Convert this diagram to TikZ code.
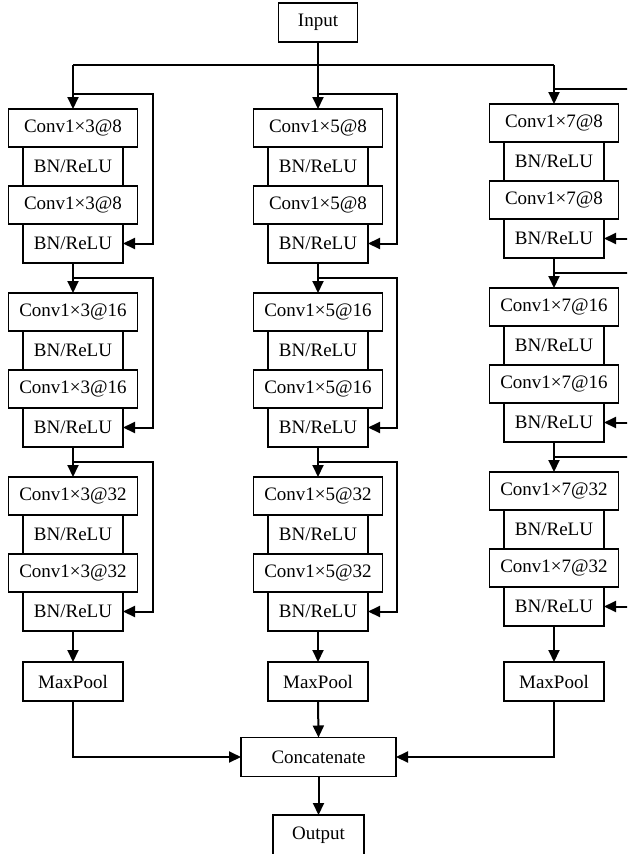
\documentclass[tikz,border=0pt]{standalone}
\usepackage{fontspec}
\setmainfont{Liberation Serif}
\usetikzlibrary{positioning, arrows.meta}
\tikzset{
	>={Triangle[length=12pt, width=11pt]}, % filled arrow heads
	block/.style={draw, line width=1.5pt, inner sep=0pt, outer sep=0pt, font=\fontsize{19}{21}\selectfont}, % every box
	convbox/.style={block, minimum width=129pt, minimum height=38pt}, % wide conv boxes
	bnbox/.style={block, minimum width=100pt, minimum height=39pt}, % narrow boxes
	link/.style={line width=2pt}, % connectors
}
\begin{document}
\begin{tikzpicture}[x=1pt, y=-1pt]
	\useasboundingbox (0,0) rectangle (627,854);
	\clip (0,0) rectangle (627,854);
	\node[block, minimum width=79pt, minimum height=39pt] (in) at (318,22.5) {Input};
	\coordinate (split) at (318,65);
	% one column per kernel size: kernel / centre / shift / skip line
	\foreach \kk/\cx/\dy/\sk in {3/73/0/153, 5/318/0/397, 7/554/-5/660} {
		\foreach \f [count=\g from 0] in {8,16,32} {
			\pgfmathsetmacro\base{109+\g*184+\dy}
			\node[convbox, anchor=north] (ca\kk\g) at (\cx,\base) {Conv1×\kk @\f};
			\node[bnbox, below=0pt of ca\kk\g] (ba\kk\g) {BN/ReLU};
			\node[convbox, below=0pt of ba\kk\g] (cb\kk\g) {Conv1×\kk @\f};
			\node[bnbox, below=0pt of cb\kk\g] (bb\kk\g) {BN/ReLU};
			\coordinate (s\kk\g) at (\cx,\base-15);
			\coordinate (r\kk\g) at (\sk,\base-15);
			\ifnum\g=0
				\draw[link, ->] (ca\kk\g.north |- split) -- (ca\kk\g.north);
			\else
				\pgfmathtruncatemacro\pg{\g-1}
				\draw[link, ->] (bb\kk\pg.south) -- (ca\kk\g.north);
			\fi
			\draw[link, ->] (s\kk\g) -- (r\kk\g) |- (bb\kk\g.east);
		}
		\node[bnbox, anchor=north] (mp\kk) at (\cx,662) {MaxPool};
		\draw[link, ->] (bb\kk2.south) -- (mp\kk.north);
	}
	\node[block, minimum width=155pt, minimum height=39pt] (cat) at (318.5,757) {Concatenate};
	\node[block, minimum width=91pt, minimum height=40pt] (out) at (318.5,835) {Output};
	\draw[link] (in.south) -- (split);
	\draw[link] (ca30.north |- split) -- (ca70.north |- split);
	\draw[link, ->] (mp3.south) |- (cat.west);
	\draw[link, ->] (mp5.south) -- (cat.north);
	\draw[link, ->] (mp7.south) |- (cat.east);
	\draw[link, ->] (cat.south) -- (out.north);
\end{tikzpicture}
\end{document}
